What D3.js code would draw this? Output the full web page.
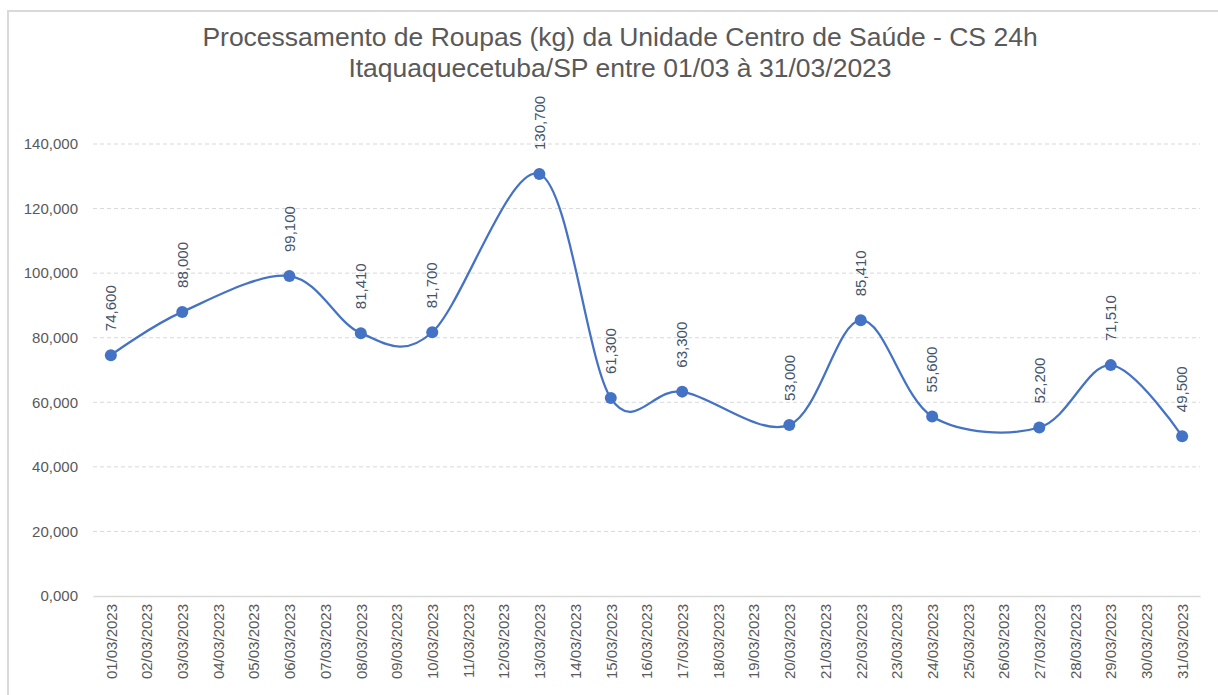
<!DOCTYPE html>
<html>
<head>
<meta charset="utf-8">
<script src="https://cdn.jsdelivr.net/npm/d3@7"></script>
<style>
  body { margin: 0; background: #fff; }
  svg { display: block; }
  text { font-family: "Liberation Sans", Arial, sans-serif; }
</style>
</head>
<body>
<div id="chart"></div>
<script>
const titleLines = [
  'Processamento de Roupas (kg) da Unidade Centro de Saúde - CS 24h',
  'Itaquaquecetuba/SP entre 01/03 à 31/03/2023'
];

// every day of March shows up on the axis
const days = d3.range(1, 32).map(d => String(d).padStart(2, '0') + '/03/2023');

// only the days that have a measurement
const pointDays = ['01/03/2023', '03/03/2023', '06/03/2023', '08/03/2023', '10/03/2023',
  '13/03/2023', '15/03/2023', '17/03/2023', '20/03/2023', '22/03/2023',
  '24/03/2023', '27/03/2023', '29/03/2023', '31/03/2023'];
const kg = [74600, 88000, 99100, 81410, 81700, 130700, 61300, 63300, 53000, 85410,
  55600, 52200, 71510, 49500];

const yTicks = [0, 20000, 40000, 60000, 80000, 100000, 120000, 140000];
const yTickLabels = ['0,000', '20,000', '40,000', '60,000', '80,000', '100,000', '120,000', '140,000'];

const width = 1218;
const height = 695;
const margin = { top: 144, right: 18, bottom: 99, left: 93 };

const svg = d3.select('#chart')
  .append('svg')
  .attr('width', width)
  .attr('height', height);

// chart frame
svg.append('rect')
  .attr('x', 8)
  .attr('y', 11)
  .attr('width', width + 10)
  .attr('height', height + 10)
  .attr('fill', 'none')
  .attr('stroke', '#d9d9d9')
  .attr('stroke-width', 2);

svg.append('g')
  .selectAll('text')
  .data(titleLines)
  .enter()
  .append('text')
  .attr('x', 620)
  .attr('y', (d, i) => 46 + i * 31)
  .attr('text-anchor', 'middle')
  .attr('fill', '#595959')
  .attr('font-size', 26.5)
  .text(d => d);

const x = d3.scalePoint()
  .domain(days)
  .range([margin.left, width - margin.right])
  .padding(0.5);

const y = d3.scaleLinear()
  .domain([0, 140000])
  .range([height - margin.bottom, margin.top]);

// gridlines
svg.append('g')
  .selectAll('line')
  .data(yTicks.slice(1))
  .enter()
  .append('line')
  .attr('x1', margin.left)
  .attr('x2', width - margin.right)
  .attr('y1', d => y(d))
  .attr('y2', d => y(d))
  .attr('stroke', '#d9d9d9')
  .attr('stroke-width', 1)
  .attr('stroke-dasharray', '4,3');

// y axis labels only
const yAxis = svg.append('g')
  .attr('transform', `translate(${margin.left},0)`)
  .call(d3.axisLeft(y).tickValues(yTicks).tickSize(0).tickPadding(15)
    .tickFormat((d, i) => yTickLabels[i]));
yAxis.select('.domain').remove();
yAxis.selectAll('text')
  .attr('font-family', '"Liberation Sans", Arial, sans-serif')
  .attr('font-size', 15)
  .attr('fill', '#595959');

// x axis
const xAxis = svg.append('g')
  .attr('transform', `translate(0,${y(0)})`)
  .call(d3.axisBottom(x).tickSize(0));
xAxis.select('.domain')
  .attr('stroke', '#d9d9d9')
  .attr('stroke-width', 1.5);
xAxis.selectAll('text')
  .attr('font-family', '"Liberation Sans", Arial, sans-serif')
  .attr('font-size', 15)
  .attr('fill', '#595959')
  .attr('text-anchor', 'end')
  .attr('dy', '0.35em')
  .attr('transform', 'translate(0,8) rotate(-90)')
  .attr('x', 0)
  .attr('y', 0);

const points = pointDays.map((d, i) => ({ day: d, value: kg[i] }));

const line = d3.line()
  .x(d => x(d.day))
  .y(d => y(d.value))
  .curve(d3.curveCatmullRom.alpha(0));

svg.append('path')
  .datum(points)
  .attr('fill', 'none')
  .attr('stroke', '#4472c4')
  .attr('stroke-width', 2.25)
  .attr('d', line);

svg.append('g')
  .attr('fill', '#4472c4')
  .selectAll('circle')
  .data(points)
  .enter()
  .append('circle')
  .attr('cx', d => x(d.day))
  .attr('cy', d => y(d.value))
  .attr('r', 6);

svg.append('g')
  .selectAll('text')
  .data(points)
  .enter()
  .append('text')
  .attr('transform', d => `translate(${x(d.day)},${y(d.value) - 24}) rotate(-90)`)
  .attr('dy', '0.35em')
  .attr('font-size', 15)
  .attr('fill', '#44546a')
  .text(d => d3.format(',')(d.value));
</script>
</body>
</html>
